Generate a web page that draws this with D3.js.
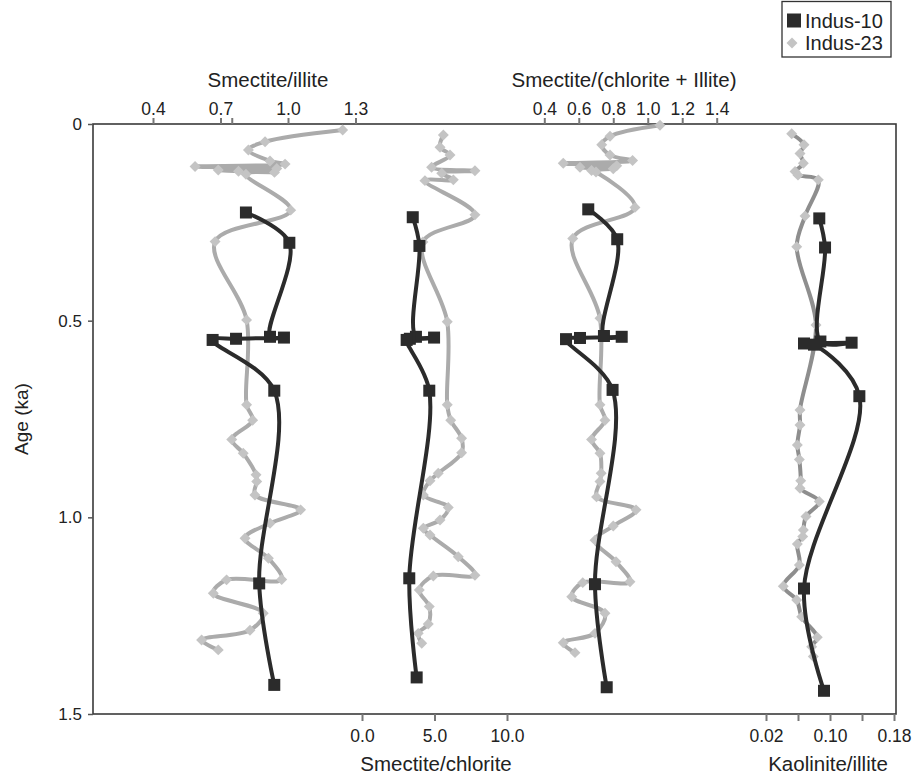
<!DOCTYPE html>
<html><head><meta charset="utf-8">
<script src="https://cdn.jsdelivr.net/npm/d3@7"></script>
<style>
html,body{margin:0;padding:0;background:#fff;}
svg{display:block;font-family:"Liberation Sans",Arial,Helvetica,sans-serif;}
</style></head>
<body>
<script>
// ---------- DATA ----------
// Age axis
const ageTicks = [0, 0.5, 1.0, 1.5];
const ageTickLabels = ["0", "0.5", "1.0", "1.5"];

// Panel 1: Smectite/illite (top axis)
const siTicks = [0.4, 0.7, 0.75, 1.0, 1.3];
const siTickLabels = ["0.4", "0.7", "", "1.0", "1.3"];
const siAge23 = [0.015,0.045,0.066,0.094,0.102,0.108,0.113,0.117,0.120,0.123,0.128,0.219,0.299,0.498,0.714,0.753,0.802,0.837,0.892,0.909,0.943,0.981,1.015,1.053,1.104,1.158,1.159,1.193,1.244,1.287,1.312,1.337];
const siVal23 = [1.243,0.898,0.824,0.92,0.987,0.587,0.95,0.69,0.78,0.94,0.813,1.012,0.676,0.816,0.816,0.843,0.75,0.801,0.858,0.861,0.853,1.056,0.92,0.809,0.913,0.972,0.727,0.668,0.890,0.831,0.616,0.69];
const siAge10 = [0.225,0.302,0.541,0.543,0.546,0.549,0.678,1.168,1.426];
const siVal10 = [0.813,1.006,0.92,0.982,0.769,0.665,0.939,0.872,0.939];

// Panel 2: Smectite/chlorite (bottom axis)
const scTicks = [0, 5, 10];
const scTickLabels = ["0.0", "5.0", "10.0"];
const scAge23 = [0.028,0.059,0.079,0.110,0.119,0.125,0.142,0.144,0.231,0.300,0.503,0.714,0.753,0.799,0.836,0.888,0.907,0.943,0.975,1.007,1.028,1.045,1.100,1.147,1.149,1.185,1.227,1.271,1.295,1.320];
const scVal23 = [5.61,5.38,6.07,4.80,7.79,5.50,6.30,4.34,7.79,4.2,5.88,5.88,6.12,6.87,6.87,5.26,4.69,4.23,5.95,5.38,4.23,4.69,6.64,7.79,4.92,3.95,4.64,4.57,3.88,4.12];
const scAge10 = [0.237,0.310,0.541,0.543,0.546,0.549,0.678,1.155,1.407];
const scVal10 = [3.50,3.96,3.72,4.97,3.3,3.08,4.64,3.26,3.77];

// Panel 3: Smectite/(chlorite + Illite) (top axis)
const sciTicks = [0.4, 0.6, 0.8, 1.0, 1.2, 1.4];
const sciTickLabels = ["0.4", "0.6", "0.8", "1.0", "1.2", "1.4"];
const sciAge23 = [0.003,0.031,0.053,0.079,0.093,0.100,0.106,0.110,0.114,0.118,0.122,0.212,0.291,0.494,0.714,0.753,0.802,0.837,0.888,0.909,0.948,0.981,1.022,1.058,1.113,1.164,1.166,1.202,1.244,1.295,1.319,1.344];
const sciVal23 = [1.071,0.781,0.733,0.781,0.912,0.51,0.82,0.607,0.80,0.674,0.70,0.926,0.565,0.723,0.723,0.752,0.674,0.723,0.73,0.723,0.703,0.932,0.80,0.694,0.816,0.897,0.623,0.559,0.752,0.694,0.51,0.578];
const sciAge10 = [0.217,0.293,0.539,0.541,0.544,0.547,0.676,1.170,1.432];
const sciVal10 = [0.655,0.823,0.746,0.849,0.607,0.526,0.796,0.694,0.762];

// Panel 4: Kaolinite/illite (bottom axis)
const kiTicks = [0.02, 0.06, 0.10, 0.14, 0.18];
const kiTickLabels = ["0.02", "", "0.10", "", "0.18"];
const kiAge23 = [0.025,0.053,0.075,0.100,0.121,0.130,0.142,0.234,0.312,0.511,0.727,0.765,0.816,0.853,0.907,0.926,0.960,0.998,1.032,1.049,1.068,1.121,1.175,1.210,1.253,1.305,1.329,1.354];
const kiVal23 = [0.0521,0.0675,0.0625,0.0667,0.0563,0.060,0.0854,0.0688,0.0584,0.0825,0.0625,0.0625,0.0592,0.0617,0.0634,0.0625,0.0866,0.070,0.0667,0.0659,0.0592,0.0617,0.0416,0.0584,0.0646,0.0841,0.0771,0.0791];
const kiAge10 = [0.240,0.314,0.553,0.556,0.558,0.561,0.692,1.181,1.441];
const kiVal10 = [0.0866,0.0938,0.088,0.127,0.0675,0.080,0.1367,0.0675,0.0925];

const seriesNames = ["Indus-10", "Indus-23"];

// ---------- LAYOUT ----------
const W = 917, H = 778;
const L = 93, R = 896, T = 124, B = 714;
const BLACK = "#2b2b2b", GREYLINE = "#ababab", GREYMARK = "#c4c4c4", GREYLINE4 = "#8e8e8e";

const svg = d3.select("body").append("svg").attr("width", W).attr("height", H);

const y = d3.scaleLinear().domain([0, 1.5]).range([T, B]);

const xSI = d3.scaleLinear().domain([0.4, 1.3]).range([153, 355.5]);
const xSC = d3.scaleLinear().domain([0, 10]).range([362, 507]);
const xSCI = d3.scaleLinear().domain([0.4, 1.4]).range([544.3, 716.7]);
const xKI = d3.scaleLinear().domain([0.02, 0.18]).range([766, 894]);

// frame
svg.append("rect").attr("x", L).attr("y", T).attr("width", R - L).attr("height", B - T)
  .attr("fill", "none").attr("stroke", "#3a3a3a").attr("stroke-width", 1.6);

// Y axis
const yAxis = d3.axisLeft(y).tickValues(ageTicks).tickSize(5).tickPadding(6)
  .tickFormat((d, i) => ageTickLabels[i]);
const gy = svg.append("g").attr("transform", `translate(${L},0)`).call(yAxis);
gy.select(".domain").remove();
gy.selectAll(".tick line").attr("stroke", "#555").attr("stroke-width", 1.5);
gy.selectAll(".tick text").attr("font-size", 17).attr("fill", "#222").attr("font-family", "Liberation Sans, Arial, sans-serif");

svg.append("text").attr("transform", `translate(28,${(T + B) / 2}) rotate(-90)`)
  .attr("text-anchor", "middle").attr("font-size", 19).attr("fill", "#222").text("Age (ka)");

function styleAxis(g) {
  g.select(".domain").remove();
  g.selectAll(".tick line").attr("stroke", "#777").attr("stroke-width", 2);
  g.selectAll(".tick text").attr("font-size", 17.5).attr("fill", "#222").attr("font-family", "Liberation Sans, Arial, sans-serif");
}

// top axes
const gTop1 = svg.append("g").attr("transform", `translate(0,${T})`)
  .call(d3.axisTop(xSI).tickValues(siTicks).tickSize(6).tickPadding(3).tickFormat((d, i) => siTickLabels[i]));
styleAxis(gTop1);
const gTop3 = svg.append("g").attr("transform", `translate(0,${T})`)
  .call(d3.axisTop(xSCI).tickValues(sciTicks).tickSize(6).tickPadding(3).tickFormat((d, i) => sciTickLabels[i]));
styleAxis(gTop3);

// bottom axes
const gBot2 = svg.append("g").attr("transform", `translate(0,${B})`)
  .call(d3.axisBottom(xSC).tickValues(scTicks).tickSize(7).tickPadding(9).tickFormat((d, i) => scTickLabels[i]));
styleAxis(gBot2);
const gBot4 = svg.append("g").attr("transform", `translate(0,${B})`)
  .call(d3.axisBottom(xKI).tickValues(kiTicks).tickSize(7).tickPadding(9).tickFormat((d, i) => kiTickLabels[i]));
styleAxis(gBot4);

// axis titles
function title(x, yy, txt) {
  svg.append("text").attr("x", x).attr("y", yy).attr("text-anchor", "middle")
    .attr("font-size", 20.5).attr("fill", "#222").text(txt);
}
title(268, 87, "Smectite/illite");
title(624, 87, "Smectite/(chlorite + Illite)");
title(436, 771, "Smectite/chlorite");
title(828, 771, "Kaolinite/illite");

// ---------- SERIES ----------
const diamond = d3.symbol().type(d3.symbolSquare).size(60);

function drawGrey(xs, ages, vals, lineColor) {
  const pts = ages.map((a, i) => ({ a, v: vals[i] }));
  const line = d3.line().curve(d3.curveCatmullRom.alpha(0.5)).x(d => xs(d.v)).y(d => y(d.a));
  svg.append("path").datum(pts).attr("d", line).attr("fill", "none")
    .attr("stroke", lineColor).attr("stroke-width", 4).attr("stroke-linejoin", "round");
  svg.append("g").selectAll("path").data(pts).join("path")
    .attr("d", diamond).attr("transform", d => `translate(${xs(d.v)},${y(d.a)}) rotate(45)`)
    .attr("fill", GREYMARK);
}
function drawBlack(xs, ages, vals) {
  const pts = ages.map((a, i) => ({ a, v: vals[i] }));
  const line = d3.line().curve(d3.curveCatmullRom.alpha(0.5)).x(d => xs(d.v)).y(d => y(d.a));
  svg.append("path").datum(pts).attr("d", line).attr("fill", "none")
    .attr("stroke", BLACK).attr("stroke-width", 4).attr("stroke-linejoin", "round");
  const s = 12;
  svg.append("g").selectAll("rect").data(pts).join("rect")
    .attr("x", d => xs(d.v) - s / 2).attr("y", d => y(d.a) - s / 2)
    .attr("width", s).attr("height", s).attr("fill", BLACK);
}

drawGrey(xSI, siAge23, siVal23, GREYLINE);
drawGrey(xSC, scAge23, scVal23, GREYLINE);
drawGrey(xSCI, sciAge23, sciVal23, GREYLINE);
drawGrey(xKI, kiAge23, kiVal23, GREYLINE4);
drawBlack(xSI, siAge10, siVal10);
drawBlack(xSC, scAge10, scVal10);
drawBlack(xSCI, sciAge10, sciVal10);
drawBlack(xKI, kiAge10, kiVal10);

// ---------- LEGEND ----------
const lg = svg.append("g");
lg.append("rect").attr("x", 782).attr("y", 1.5).attr("width", 109).attr("height", 55.5)
  .attr("fill", "#fff").attr("stroke", "#333").attr("stroke-width", 1.3);
lg.append("rect").attr("x", 787).attr("y", 13.5).attr("width", 14).attr("height", 14).attr("fill", BLACK);
lg.append("path").attr("d", d3.symbol().type(d3.symbolSquare).size(60))
  .attr("transform", "translate(792,43) rotate(45)").attr("fill", GREYMARK);
lg.append("text").attr("x", 805).attr("y", 27.5).attr("font-size", 20).attr("fill", "#222").text(seriesNames[0]);
lg.append("text").attr("x", 805).attr("y", 50).attr("font-size", 20).attr("fill", "#222").text(seriesNames[1]);
</script>
</body></html>
